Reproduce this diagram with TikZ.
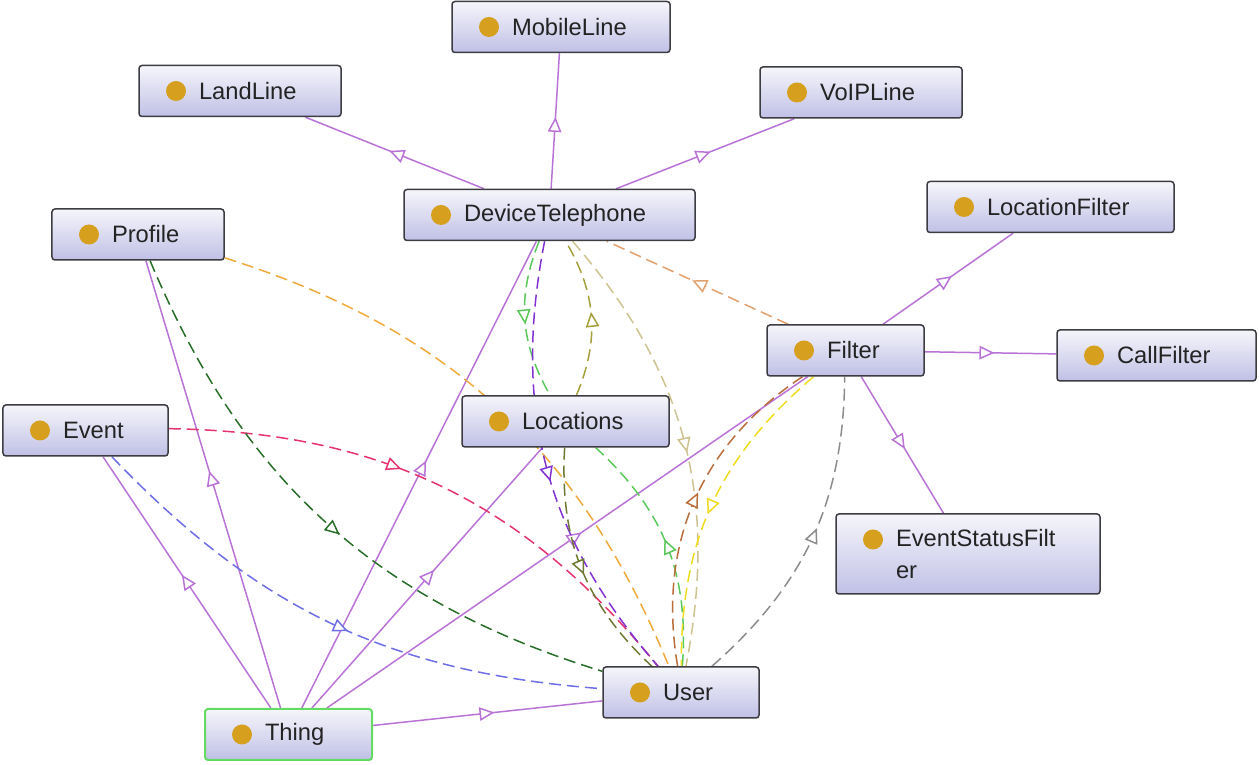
\documentclass[tikz,border=0pt]{standalone}
\usepackage{fontspec}
\setmainfont{Liberation Sans}
\usetikzlibrary{arrows.meta,decorations.markings,backgrounds}

\definecolor{boxline}{RGB}{60,60,66}
\definecolor{boxblue}{RGB}{192,192,230}
\definecolor{gold}{RGB}{214,160,30}
\definecolor{labelgray}{RGB}{35,35,35}
\definecolor{thinggreen}{RGB}{100,220,100}
\definecolor{isa}{RGB}{185,115,215}
\definecolor{pblue}{RGB}{110,110,230}
\definecolor{pcrimson}{RGB}{230,50,110}
\definecolor{pdkgreen}{RGB}{40,110,40}
\definecolor{porange}{RGB}{240,170,60}
\definecolor{pgreen}{RGB}{90,200,90}
\definecolor{pviolet}{RGB}{130,50,210}
\definecolor{polive}{RGB}{165,160,60}
\definecolor{pdkolive}{RGB}{110,120,50}
\definecolor{ptan}{RGB}{205,195,145}
\definecolor{ppeach}{RGB}{225,160,110}
\definecolor{pbrown}{RGB}{185,110,60}
\definecolor{pyellow}{RGB}{240,220,30}
\definecolor{pgray}{RGB}{140,140,140}

\tikzset{
  cls/.style={draw=boxline, line width=0.3mm, rounded corners=0.6mm,
    top color=white!85!boxblue, bottom color=boxblue,
    minimum height=10.2mm, inner xsep=0pt, text width=#1, align=left,
    font=\fontsize{13.5}{18}\selectfont, text=labelgray,
    execute at begin node={\hspace*{12mm}},
    path picture={\fill[gold] ([xshift=7.4mm,yshift=-5.1mm]path picture bounding box.north west) circle (2mm);}},
  tip at/.store in=\tippos, tip at=0.53,
  midtip/.style={postaction={decorate}, decoration={markings,
    mark=at position \tippos with {\arrow{Triangle[fill=white,length=3mm,width=2.7mm]}}}},
  isaline/.style={draw=isa, line width=0.3mm, midtip},
  prop/.style={draw=#1, line width=0.3mm, dash pattern=on 2.4mm off 1.2mm, midtip}
}

\begin{document}
\begin{tikzpicture}[x=0.2mm,y=0.2mm]
  \useasboundingbox (0,0) rectangle (1259,765);
  \node[cls=43.6mm] (mobile)    at (561,738)    {MobileLine};
  \node[cls=40.4mm] (landline)  at (240,674)    {LandLine};
  \node[cls=40.4mm] (voip)      at (861,672.5)  {VoIPLine};
  \node[cls=58.2mm] (device)    at (549.5,550)  {DeviceTelephone};
  \node[cls=34.4mm] (profile)   at (138,530.5)  {Profile};
  \node[cls=49.4mm] (locfilter) at (1050.5,558) {LocationFilter};
  \node[cls=31.4mm] (filter)    at (845.5,414.5) {Filter};
  \node[cls=39.8mm] (callfilter) at (1156.5,409.5) {CallFilter};
  \node[cls=33mm]   (event)     at (85.5,334.5) {Event};
  \node[cls=41.4mm] (locations) at (565.5,343.5) {Locations};
  \node[cls=52.8mm, minimum height=16mm] (statusfilter) at (968,211) {EventStatusFilt\\\hspace*{12mm}er};
  \node[cls=31.2mm] (user)      at (681,72.5)   {User};
  \node[cls=33.4mm, draw=thinggreen, line width=0.4mm] (thing) at (288.5,30.5) {Thing};

  \begin{pgfonlayer}{background}
    \draw[isaline] (device) -- (landline);
    \draw[isaline] (device) -- (mobile);
    \draw[isaline] (device) -- (voip);
    \draw[isaline] (filter) -- (locfilter);
    \draw[isaline] (filter) -- (callfilter);
    \draw[isaline] (filter) -- (statusfilter);
    \draw[isaline] (thing) -- (event);
    \draw[isaline] (thing) -- (profile);
    \draw[isaline] (thing) -- (device);
    \draw[isaline] (thing) -- (locations);
    \draw[isaline] (thing) -- (filter);
    \draw[isaline] (thing) -- (user);

    \draw[prop=pblue]    (event) to[bend right=21] (user);
    \draw[prop=pcrimson, tip at=0.42] (event) to[bend left=25] (user);
    \draw[prop=pdkgreen] (profile) to[bend right=25] (user);
    \draw[prop=porange]  (profile) to[bend left=25] (user);
    \draw[prop=pgreen]   (device) to[bend right=26] (locations);
    \draw[prop=pgreen]   (user) to[bend right=26] (locations);
    \draw[prop=pviolet]  (device) to[bend right=26] (user);
    \draw[prop=polive]   (locations) to[bend right=27] (device);
    \draw[prop=pdkolive] (locations) to[bend right=25] (user);
    \draw[prop=ptan]     (device) to[bend left=26] (user);
    \draw[prop=ppeach]   (filter) -- (device);
    \draw[prop=pbrown]   (user) to[bend left=33] (filter);
    \draw[prop=pyellow]  (filter) to[bend right=25] (user);
    \draw[prop=pgray]    (user) to[bend right=24] (filter);
  \end{pgfonlayer}
\end{tikzpicture}
\end{document}
